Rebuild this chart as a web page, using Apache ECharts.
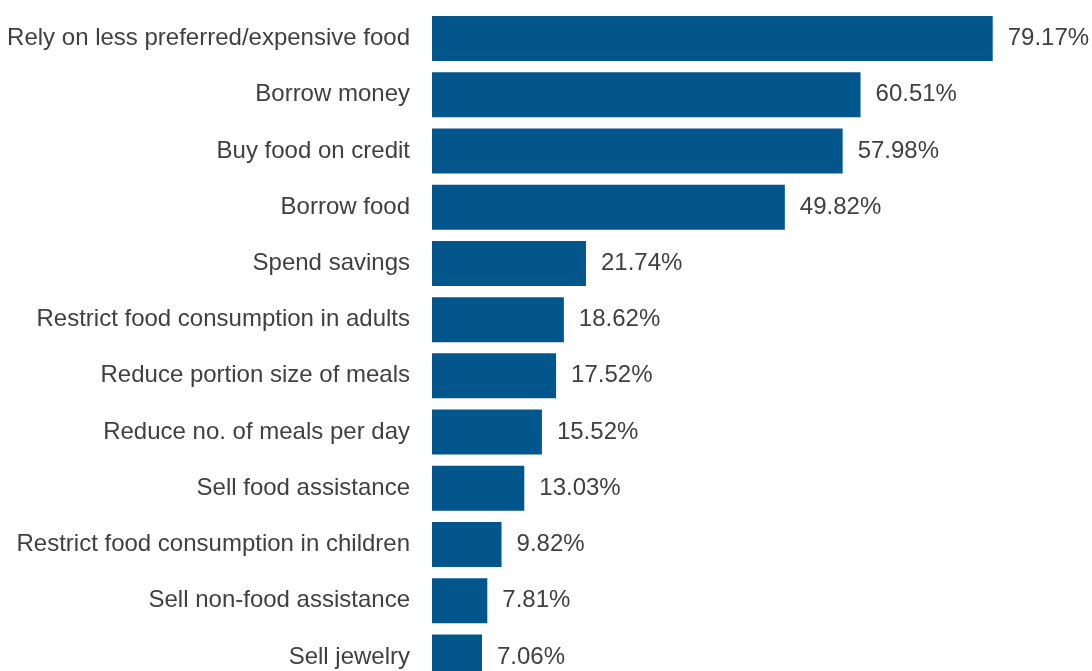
<!DOCTYPE html>
<html>
<head>
<meta charset="utf-8">
<script src="https://cdn.jsdelivr.net/npm/echarts@6/dist/echarts.min.js"></script>
<style>
  html, body { margin: 0; padding: 0; background: #ffffff; overflow: hidden; }
  /* the plot runs slightly past the bottom of the page, clipping the last bar */
  #chart { width: 1092px; height: 685px; }
</style>
</head>
<body>
<div id="chart"></div>
<script>
// Coping strategies, listed from most to least common
const strategies = [
  'Rely on less preferred/expensive food',
  'Borrow money',
  'Buy food on credit',
  'Borrow food',
  'Spend savings',
  'Restrict food consumption in adults',
  'Reduce portion size of meals',
  'Reduce no. of meals per day',
  'Sell food assistance',
  'Restrict food consumption in children',
  'Sell non-food assistance',
  'Sell jewelry'
];

// Share of households using each strategy (%)
const shares = [79.17, 60.51, 57.98, 49.82, 21.74, 18.62, 17.52, 15.52, 13.03, 9.82, 7.81, 7.06];

const chart = echarts.init(document.getElementById('chart'), null, { renderer: 'canvas' });

chart.setOption({
  animation: false,
  backgroundColor: '#ffffff',
  grid: { left: 432, right: 58, top: 10.5, bottom: 0, containLabel: false },
  xAxis: {
    type: 'value',
    min: 0,
    max: 85,
    show: false
  },
  yAxis: {
    type: 'category',
    data: strategies,
    inverse: true,
    axisLine: { show: false },
    axisTick: { show: false },
    axisLabel: {
      margin: 22,
      color: '#404040',
      fontFamily: 'Liberation Sans, Arial, sans-serif',
      fontSize: 24
    }
  },
  series: [{
    type: 'bar',
    data: shares,
    barCategoryGap: '20%',
    itemStyle: { color: '#02568B' },
    label: {
      show: true,
      position: 'right',
      distance: 15,
      color: '#404040',
      fontFamily: 'Liberation Sans, Arial, sans-serif',
      fontSize: 24,
      formatter: p => p.value.toFixed(2) + '%'
    }
  }]
});
</script>
</body>
</html>
